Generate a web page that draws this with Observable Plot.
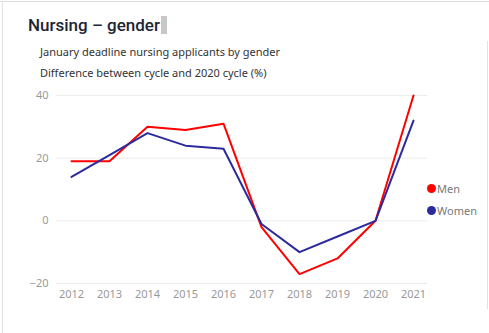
<!DOCTYPE html>
<html>
<head>
<meta charset="utf-8">
<script src="https://cdn.jsdelivr.net/npm/d3@7"></script>
<script src="https://cdn.jsdelivr.net/npm/@observablehq/plot@0.6"></script>
<style>
  html, body { margin: 0; padding: 0; background: #fff; }
  #wrap { position: relative; width: 489px; height: 333px; overflow: hidden; font-family: "Noto Sans", "Open Sans", sans-serif; }
  .border-top { position: absolute; left: 0; top: 1px; width: 489px; height: 1px; background: #dcdcdc; }
  .border-left { position: absolute; left: 2px; top: 1px; width: 1px; height: 332px; background: #e2e2e2; }
  .border-right { position: absolute; left: 487px; top: 41px; width: 1px; height: 268px; background: #e2e2e2; }
  #title { position: absolute; left: 28px; top: 15px; font-family: Roboto, "Noto Sans", sans-serif; font-size: 17px; font-weight: 500; color: #1d2433; white-space: nowrap; line-height: 20px; display: flex; align-items: center; }
  #cursor { display: inline-block; width: 6px; height: 18px; background: #c8c8c8; margin-left: 1px; }
  .sub { position: absolute; left: 40px; font-size: 11px; color: #333; white-space: nowrap; line-height: 14px; }
  #chart { position: absolute; left: 0; top: 80px; }
  #legend { position: absolute; left: 427px; top: 177px; font-size: 11px; color: #777; }
  .item { display: flex; align-items: center; height: 22px; }
  .dot { width: 9px; height: 9px; border-radius: 50%; margin-right: 1px; }
</style>
</head>
<body>
<div id="wrap">
  <div class="border-top"></div>
  <div class="border-left"></div>
  <div class="border-right"></div>
  <div id="title"><span id="titleText"></span><span id="cursor"></span></div>
  <div class="sub" id="sub1" style="top:45px"></div>
  <div class="sub" id="sub2" style="top:66px"></div>
  <div id="chart"></div>
  <div id="legend"></div>
</div>
<script>
const title = "Nursing – gender";
const subtitle1 = "January deadline nursing applicants by gender";
const subtitle2 = "Difference between cycle and 2020 cycle (%)";
const years = ["2012","2013","2014","2015","2016","2017","2018","2019","2020","2021"];
const seriesNames = ["Men", "Women"];
const seriesColors = ["#ff0000", "#2b2b9e"];
const men   = [19, 19, 30, 29, 31, -2, -17, -12, 0, 40];
const women = [14, 21, 28, 24, 23, -1, -10, -5, 0, 32];
const yTicks = [-20, 0, 20, 40];

document.getElementById("titleText").textContent = title;
document.getElementById("sub1").textContent = subtitle1;
document.getElementById("sub2").textContent = subtitle2;

const data = [];
years.forEach((y, i) => data.push({year: y, value: men[i], series: seriesNames[0]}));
years.forEach((y, i) => data.push({year: y, value: women[i], series: seriesNames[1]}));

const chart = Plot.plot({
  width: 489,
  height: 228,
  marginTop: 15,
  marginBottom: 25,
  marginLeft: 56,
  marginRight: 62,
  style: { fontFamily: "'Noto Sans', sans-serif", fontSize: "11px", color: "#999", background: "transparent" },
  x: { type: "point", domain: years, padding: 0.37, label: null },
  y: { domain: [-20, 40], label: null },
  color: { domain: seriesNames, range: seriesColors },
  marks: [
    Plot.gridY(yTicks, { stroke: "#ececec", strokeOpacity: 1, strokeWidth: 1 }),
    Plot.axisY(yTicks, { tickSize: 0, tickPadding: 8, fill: "#999", label: null }),
    Plot.axisX({ tickSize: 0, tickPadding: 7, fill: "#999", label: null }),
    Plot.line(data, { x: "year", y: "value", z: "series", stroke: "series", strokeWidth: 2, curve: "linear" })
  ]
});
document.getElementById("chart").appendChild(chart);

const legend = document.getElementById("legend");
seriesNames.forEach((name, i) => {
  const item = document.createElement("div");
  item.className = "item";
  const dot = document.createElement("span");
  dot.className = "dot";
  dot.style.background = seriesColors[i];
  const label = document.createElement("span");
  label.textContent = name;
  item.appendChild(dot);
  item.appendChild(label);
  legend.appendChild(item);
});
</script>
</body>
</html>
